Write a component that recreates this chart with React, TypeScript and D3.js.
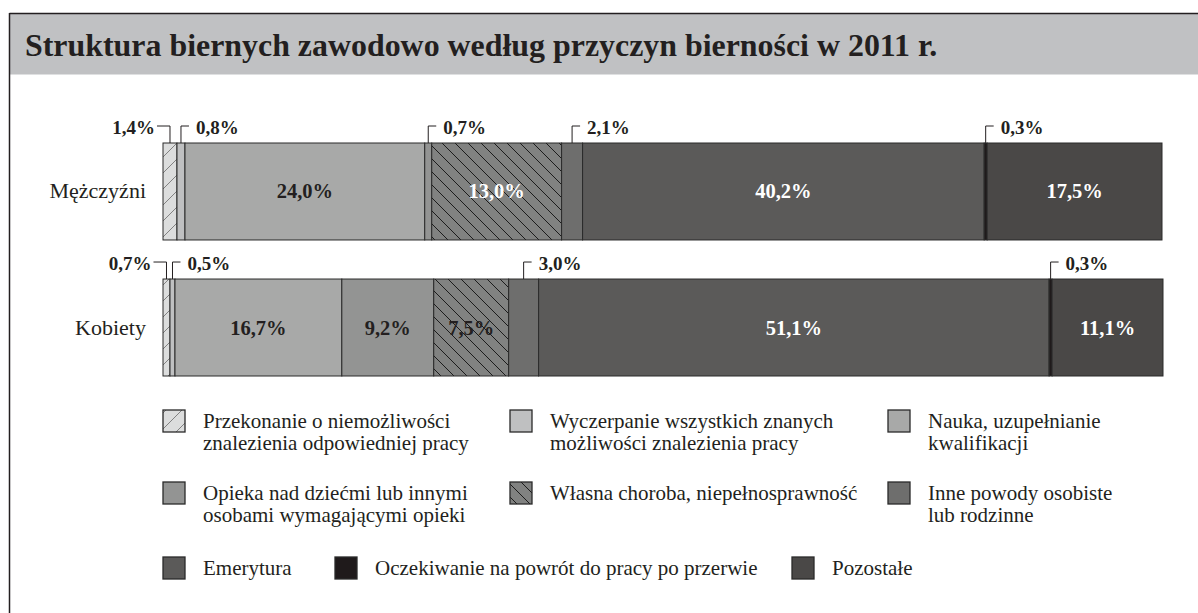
import React from "react";
import * as d3 from "d3";

const categories = ["Mężczyźni", "Kobiety"];
const reasons = [
  "Przekonanie o niemożliwości znalezienia odpowiedniej pracy",
  "Wyczerpanie wszystkich znanych możliwości znalezienia pracy",
  "Nauka, uzupełnianie kwalifikacji",
  "Opieka nad dziećmi lub innymi osobami wymagającymi opieki",
  "Własna choroba, niepełnosprawność",
  "Inne powody osobiste lub rodzinne",
  "Emerytura",
  "Oczekiwanie na powrót do pracy po przerwie",
  "Pozostałe",
];
const menValues = [1.4, 0.8, 24.0, 0.7, 13.0, 2.1, 40.2, 0.3, 17.5];
const womenValues = [0.7, 0.5, 16.7, 9.2, 7.5, 3.0, 51.1, 0.3, 11.1];
const legendLines = [
  ["Przekonanie o niemożliwości", "znalezienia odpowiedniej pracy"],
  ["Wyczerpanie wszystkich znanych", "możliwości znalezienia pracy"],
  ["Nauka, uzupełnianie", "kwalifikacji"],
  ["Opieka nad dziećmi lub innymi", "osobami wymagającymi opieki"],
  ["Własna choroba, niepełnosprawność"],
  ["Inne powody osobiste", "lub rodzinne"],
  ["Emerytura"],
  ["Oczekiwanie na powrót do pracy po przerwie"],
  ["Pozostałe"],
];
const title = "Struktura biernych zawodowo według przyczyn bierności w 2011 r.";

const fills = [
  "url(#hatchLight)",
  "#bfc0c1",
  "#a8a9a8",
  "#939493",
  "url(#hatchDark)",
  "#6e6e6d",
  "#5b5a59",
  "#1f1a1b",
  "#4a4847",
];
const baseLum = [222, 191, 168, 147, 128, 110, 91, 31, 74];

const W = 1198;
const H = 613;
const FONT = "'Liberation Serif', 'Times New Roman', serif";
const INK = "#231f20";

const fmt = (v: number) => d3.format(".1f")(v).replace(".", ",") + "%";

export default function App() {
  const x = d3.scaleLinear().domain([0, 100]).range([163, 1162]);
  const y = d3.scaleBand<string>().domain(categories).range([143, 376]).paddingInner(0.287).paddingOuter(0);
  const bw = y.bandwidth();
  const series = [menValues, womenValues];

  const legendPos = [
    [163, 410], [510, 410], [888, 410],
    [163, 482], [510, 482], [888, 482],
    [163, 557], [335, 557], [792, 557],
  ];

  return (
    <svg width={W} height={H} style={{ position: "absolute", left: 0, top: 0, background: "#fff" }} fontFamily={FONT}>
      <defs>
        <pattern id="hatchLight" patternUnits="userSpaceOnUse" width="16" height="16">
          <rect width="16" height="16" fill="#dcdddd" />
          <path d="M0,16 L16,0 M-3,3 L3,-3 M13,19 L19,13" stroke="#6a6a6a" strokeWidth="0.8" />
        </pattern>
        <pattern id="hatchDark" patternUnits="userSpaceOnUse" width="13" height="13">
          <rect width="13" height="13" fill="#818281" />
          <path d="M0,0 L13,13 M-3,10 L3,16 M10,-3 L16,3" stroke="#111" strokeWidth="0.9" />
        </pattern>
      </defs>

      {/* frame and header */}
      <rect x={9.5} y={13.5} width={W} height={61} fill="#c0c1c3" />
      <line x1={9.5} y1={13.5} x2={W} y2={13.5} stroke={INK} strokeWidth={1.5} />
      <line x1={9.5} y1={13} x2={9.5} y2={H} stroke={INK} strokeWidth={1.5} />
      <text x={25} y={56} fontSize={31.9} fontWeight="bold" fill={INK}>{title}</text>

      {series.map((vals, si) => {
        const cat = categories[si];
        const y0 = y(cat) as number;
        const cum = d3.cumsum(vals);
        return (
          <g key={cat}>
            <text x={146} y={y0 + bw / 2 + 7} textAnchor="end" fontSize={22} fill={INK}>{cat}</text>
            {vals.map((v, i) => {
              const s = cum[i] - v;
              const x0 = x(s);
              const x1 = x(cum[i]);
              return (
                <rect key={i} x={x0} y={y0} width={x1 - x0} height={bw} fill={fills[i]} stroke="#2a2a2a" strokeWidth={1} />
              );
            })}
            {vals.map((v, i) => {
              const s = cum[i] - v;
              const cx = x(s + v / 2);
              if (v <= 3.0) {
                const top = y0 - 17;
                if (i === 0) {
                  return (
                    <g key={"l" + i}>
                      <path d={`M${cx},${y0} V${top} H${cx - 13}`} fill="none" stroke={INK} strokeWidth={1} />
                      <text x={cx - 15} y={top + 8} textAnchor="end" fontSize={19} fontWeight="bold" fill={INK}>{fmt(v)}</text>
                    </g>
                  );
                }
                return (
                  <g key={"l" + i}>
                    <path d={`M${cx},${y0} V${top} H${cx + 8}`} fill="none" stroke={INK} strokeWidth={1} />
                    <text x={cx + 15} y={top + 8} fontSize={19} fontWeight="bold" fill={INK}>{fmt(v)}</text>
                  </g>
                );
              }
              const light = baseLum[i] > 140 || (i === 4 && v < 10);
              return (
                <text key={"t" + i} x={cx} y={y0 + bw / 2 + 7} textAnchor="middle" fontSize={20.5} fontWeight="bold" fill={light ? INK : "#ffffff"}>
                  {fmt(v)}
                </text>
              );
            })}
          </g>
        );
      })}

      {reasons.map((r, i) => {
        const [lx, ly] = legendPos[i];
        return (
          <g key={r}>
            <rect x={lx} y={ly} width={22} height={22} fill={fills[i]} stroke="#2a2a2a" strokeWidth={1.3} />
            {legendLines[i].map((line, j) => (
              <text key={j} x={lx + 40} y={ly + 18 + j * 22} fontSize={21} fill={INK}>{line}</text>
            ))}
          </g>
        );
      })}
    </svg>
  );
}
